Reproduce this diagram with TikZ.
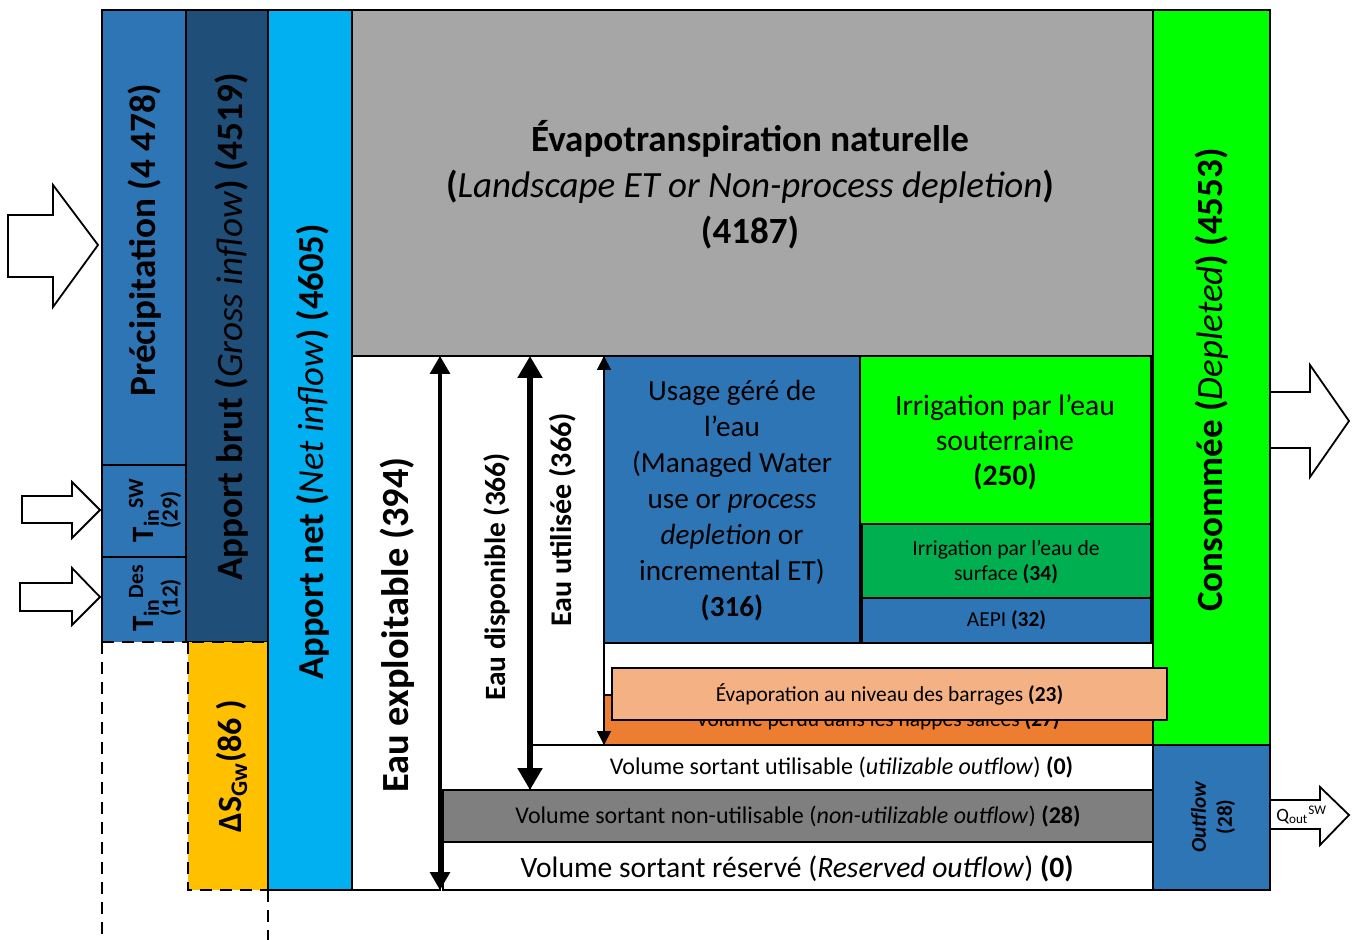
\documentclass[tikz,border=0pt]{standalone}
\usepackage{fontspec}
\setmainfont{Carlito}
\usetikzlibrary{arrows.meta}
\definecolor{cblue}{HTML}{2E75B6}
\definecolor{cdblue}{HTML}{1F4E79}
\definecolor{ccyan}{HTML}{00B0F0}
\definecolor{cgray}{HTML}{A6A6A6}
\definecolor{cgreen}{HTML}{00FF00}
\definecolor{cdgreen}{HTML}{00B050}
\definecolor{cyellow}{HTML}{FFC000}
\definecolor{cdgray}{HTML}{7F7F7F}
\definecolor{corange}{HTML}{ED7D31}
\definecolor{cpeach}{HTML}{F4B183}
\newcommand\bx[6]{\node[box,#6,minimum width={(#4-#2)*0.5pt},minimum height={(#5-#3)*0.5pt}] (#1) at ({(#2+#4)/2},{(#3+#5)/2}) {};}
\newcommand\fs[2]{\fontsize{#1}{#2}\selectfont}
\begin{document}
\begin{tikzpicture}[x=0.5pt,y=-0.5pt,
  box/.style={draw,line width=1.3pt,inner sep=0pt,outer sep=0pt},
  nob/.style={draw=none},
  blk/.style={draw,line width=0.9pt,fill=white,line join=miter},
  lbl/.style={inner sep=0pt,align=center,text=black},
  vlbl/.style={lbl,rotate=90},
  dsh/.style={line width=1.2pt,dash pattern=on 6pt off 4pt}]
\useasboundingbox (0,0) rectangle (1359,940);
% block arrows
\draw[blk] (8,215)--(53,215)--(53,185)--(98,245)--(53,307)--(53,277)--(8,277)--cycle;
\draw[blk] (22,496)--(72,496)--(72,482)--(100,510)--(72,538)--(72,523)--(22,523)--cycle;
\draw[blk] (20,583)--(72,583)--(72,568)--(100,597)--(72,625)--(72,611)--(20,611)--cycle;
\draw[blk] (1270,392)--(1310,392)--(1310,365)--(1349,421)--(1310,477)--(1310,448)--(1270,448)--cycle;
\draw[blk] (1270,800)--(1320,800)--(1320,787)--(1349,815)--(1320,845)--(1320,829)--(1270,829)--cycle;
% boxes
\bx{precip}{102}{10}{186}{465}{fill=cblue}
\bx{tinsw}{102}{465}{186}{557}{fill=cblue}
\bx{tindes}{102}{557}{186}{642}{fill=cblue,nob}
\draw[line width=1.3pt] (tindes.south west)--(tindes.north west)--(tindes.north east)--(tindes.south east);
\bx{brut}{186}{10}{268}{642}{fill=cdblue}
\bx{dsgw}{188}{642}{268}{890}{fill=cyellow,nob}
\bx{net}{268}{10}{352}{890}{fill=ccyan}
\bx{evap}{352}{10}{1153}{356}{fill=cgray}
\bx{exploit}{352}{356}{440}{890}{fill=white}
\bx{util}{530}{745}{1153}{790}{fill=white}
\bx{nonutil}{443}{790}{1153}{842}{fill=cdgray}
\bx{reserve}{443}{842}{1153}{890}{fill=white}
\bx{usage}{604}{356}{860}{643}{fill=cblue}
\bx{irrsout}{860}{356}{1151}{524}{fill=cgreen}
\bx{irrsurf}{862}{524}{1151}{598}{fill=cdgreen}
\bx{aepi}{862}{598}{1151}{643}{fill=cblue}
\bx{nappes}{604}{695}{1153}{745}{fill=corange}
\node[lbl,font=\fs{10.7}{12}] (nappesT) at (878,720) {Volume perdu dans les nappes salées \textbf{(27)}};
\bx{conso}{1153}{10}{1270}{745}{fill=cgreen}
\bx{outflow}{1153}{745}{1270}{890}{fill=cblue}
\bx{barrages}{612}{668}{1167}{720}{fill=cpeach}
% dashed
\draw[dsh] (tindes.south west)--(tindes.south east);
\draw[dsh] (dsgw.north west) rectangle (dsgw.south east);
\coordinate (d1) at (102,940);
\coordinate (d2) at (268,940);
\draw[dsh] (tindes.south west)--(d1);
\draw[dsh] (dsgw.south east)--(d2);
% vertical arrows
\coordinate (disptop) at (530,356);
\draw[line width=1.6pt,{Triangle[width=10pt,length=9pt]}-{Triangle[width=10pt,length=9pt]}] (exploit.north east)--(exploit.south east);
\draw[line width=2.6pt,{Triangle[width=12pt,length=11pt]}-{Triangle[width=12pt,length=11pt]}] (disptop)--(util.south west);
\draw[line width=0.9pt,{Triangle[width=7pt,length=7pt]}-{Triangle[width=7pt,length=7pt]}] (usage.north west)--(nappes.south west);
% labels
\node[vlbl,font=\bfseries\fs{18.6}{20}] (precipT) at (145,240) {Précipitation (4 478)};
\node[vlbl] (tinswT) at (155,510) {{\bfseries\fs{15.5}{16}T\textsubscript{in}\textsuperscript{SW}}\\[0pt]{\bfseries\fs{11.5}{12}(29)}};
\node[vlbl] (tindesT) at (155,598) {{\bfseries\fs{15.5}{16}T\textsubscript{in}\textsuperscript{Des}}\\[0pt]{\bfseries\fs{11.5}{12}(12)}};
\node[vlbl,font=\fs{18.6}{20}] (brutT) at (232,327) {\textbf{Apport brut (}\textit{Gross inflow}\textbf{) (4519)}};
\node[vlbl,font=\fs{17}{18}] (dsgwT) at (232,766) {\textbf{ΔS\textsubscript{Gw}(86 )}};
\node[vlbl,font=\fs{18.3}{20}] (netT) at (313,452) {\textbf{Apport net (}\textit{Net inflow}\textbf{) (4605)}};
\node[lbl,font=\fs{18.5}{23}] (evapT) at (750,185) {\textbf{Évapotranspiration naturelle}\\\textbf{(}\textit{Landscape ET or Non-process depletion}\textbf{)}\\\textbf{(4187)}};
\node[vlbl,font=\bfseries\fs{19.2}{20}] (exploitT) at (397,625) {Eau exploitable (394)};
\node[vlbl,font=\bfseries\fs{14.7}{16}] (dispT) at (497,577) {Eau disponible (366)};
\node[vlbl,font=\bfseries\fs{15}{16}] (utilT) at (563,520) {Eau utilisée (366)};
\node[lbl,font=\fs{14.6}{18}] (usageT) at (732,501) {Usage géré de\\l’eau\\(Managed Water\\use or \textit{process}\\\textit{depletion} or\\incremental ET)\\\textbf{(316)}};
\node[lbl,font=\fs{14.8}{17.5}] (irrsoutT) at (1005,442) {Irrigation par l’eau\\souterraine\\\textbf{(250)}};
\node[lbl,font=\fs{10.8}{12.5}] (irrsurfT) at (1006,562) {Irrigation par l’eau de\\surface \textbf{(34)}};
\node[lbl,font=\fs{10.7}{12}] (aepiT) at (aepi.center) {AEPI \textbf{(32)}};
\node[lbl,font=\fs{10.7}{12}] (barragesT) at (barrages.center) {Évaporation au niveau des barrages \textbf{(23)}};
\node[lbl,font=\fs{12}{14}] (utilT2) at (util.center) {Volume sortant utilisable (\textit{utilizable outflow}) \textbf{(0)}};
\node[lbl,font=\fs{12}{14}] (nonutilT) at (nonutil.center) {Volume sortant non-utilisable (\textit{non-utilizable outflow}) \textbf{(28)}};
\node[lbl,font=\fs{14.8}{16}] (reserveT) at (797,869) {Volume sortant réservé (\textit{Reserved outflow}) \textbf{(0)}};
\node[vlbl,font=\fs{18.5}{20}] (consoT) at (1212,380) {\textbf{Consommée (}\textit{Depleted}\textbf{) (4553)}};
\node[vlbl] (outflowT) at (1213,817) {{\bfseries\itshape\fs{10.6}{12}Outflow}\\[1pt]{\bfseries\fs{10.6}{12}(28)}};
\node[lbl,font=\fs{9.4}{10},anchor=west] (qoutT) at (1276,815) {Q\textsubscript{out}\textsuperscript{SW}};
\end{tikzpicture}
\end{document}
